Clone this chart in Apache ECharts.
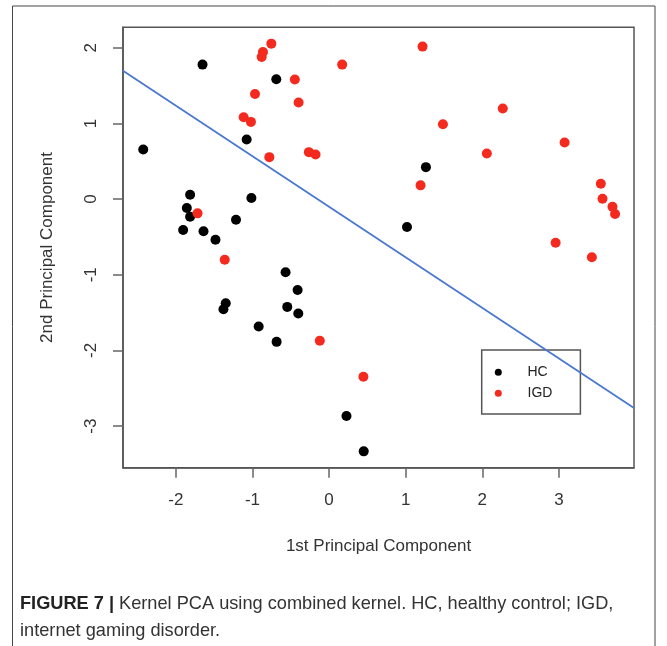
<!DOCTYPE html>
<html>
<head>
<meta charset="utf-8">
<script src="https://cdn.jsdelivr.net/npm/echarts@6/dist/echarts.min.js"></script>
<style>
html,body{margin:0;padding:0;background:#fff;}
#chart{width:667px;height:646px;}
</style>
</head>
<body>
<div id="chart"></div>
<script>
// ---- data ----
const hcX = [-1.652,-0.689,-2.426,-1.076,-1.814,-1.014,-1.857,-1.814,-1.215,-1.905,-1.639,-1.483,1.264,1.017,-0.568,-0.411,-1.349,-1.379,-0.546,-0.402,-0.919,-0.685,0.227,0.452];
const hcY = [1.777,1.583,0.656,0.788,0.057,0.013,-0.119,-0.234,-0.273,-0.409,-0.426,-0.537,0.422,-0.369,-0.967,-1.201,-1.376,-1.455,-1.425,-1.513,-1.685,-1.887,-2.867,-3.334];
const igdX = [-0.754,-0.863,-0.880,0.171,-0.447,-0.967,-0.398,-1.115,-1.020,-0.780,-0.264,-0.177,-1.717,1.220,2.267,1.486,3.074,2.059,1.194,3.547,3.569,3.699,3.733,2.957,3.430,-1.362,-0.121,0.448];
const igdY = [2.054,1.943,1.877,1.777,1.579,1.389,1.276,1.082,1.020,0.554,0.620,0.590,-0.189,2.015,1.197,0.989,0.748,0.603,0.181,0.202,0.004,-0.102,-0.198,-0.577,-0.769,-0.801,-1.873,-2.348];
const lineX = [-2.69, 3.98];
const lineY = [1.696, -2.762];
const xTicks = [-2,-1,0,1,2,3];
const yTicks = [-3,-2,-1,0,1,2];
const seriesNames = ['HC','IGD'];
const xTitle = '1st Principal Component';
const yTitle = '2nd Principal Component';
const captionBold = 'FIGURE 7 |';
const captionRest = ' Kernel PCA using combined kernel. HC, healthy control; IGD,';
const captionLine2 = 'internet gaming disorder.';

const zip = (a,b) => a.map((v,i)=>[v,b[i]]);
const FONT = '"Liberation Sans", Arial, sans-serif';

const chart = echarts.init(document.getElementById('chart'), null, {renderer:'canvas'});
chart.setOption({
  backgroundColor:'#ffffff',
  animation:false,
  grid:{left:123,right:33,top:27.3,bottom:178.3,show:true,borderColor:'#555',borderWidth:1.5,containLabel:false,outerBoundsMode:'none'},
  xAxis:{
    type:'value',min:-2.69,max:3.98,
    name:xTitle,nameLocation:'middle',nameGap:70,
    nameTextStyle:{fontFamily:FONT,fontSize:17,color:'#333'},
    axisLine:{show:true,onZero:false,lineStyle:{color:'#555',width:1.5}},
    axisTick:{show:true,inside:false,length:10,lineStyle:{color:'#666',width:1.5},customValues:xTicks},
    axisLabel:{fontFamily:FONT,fontSize:17,color:'#333',margin:24,customValues:xTicks},
    splitLine:{show:false}
  },
  yAxis:{
    type:'value',min:-3.55,max:2.27,
    name:yTitle,nameLocation:'middle',nameGap:67,nameRotate:90,
    nameTextStyle:{fontFamily:FONT,fontSize:17,color:'#333'},
    axisLine:{show:true,onZero:false,lineStyle:{color:'#555',width:1.5}},
    axisTick:{show:true,inside:false,length:10,lineStyle:{color:'#666',width:1.5},customValues:yTicks},
    axisLabel:{fontFamily:FONT,fontSize:17,color:'#333',margin:23,rotate:90,customValues:yTicks},
    splitLine:{show:false}
  },
  legend:{
    show:true,orient:'vertical',left:481.7,top:350,
    data:seriesNames,
    icon:'circle',itemWidth:7,itemHeight:7,itemGap:7,
    padding:[15.3,28,13.7,13.1],
    borderColor:'#555',borderWidth:1.5,borderRadius:0,backgroundColor:'#fff',
    textStyle:{fontFamily:FONT,fontSize:14,color:'#222',lineHeight:14,padding:[0,0,0,20.7]},
    selectedMode:false
  },
  series:[
    {name:'HC',type:'scatter',data:zip(hcX,hcY),symbol:'circle',symbolSize:10,itemStyle:{color:'#000000',opacity:1},z:3},
    {name:'IGD',type:'scatter',data:zip(igdX,igdY),symbol:'circle',symbolSize:10,itemStyle:{color:'#f42a1f',opacity:1},z:3},
    {name:'boundary',type:'line',data:zip(lineX,lineY),showSymbol:false,symbol:'none',lineStyle:{color:'#4a78d0',width:1.8},z:4,silent:true}
  ],
  graphic:[
    {type:'rect',z:-10,silent:true,shape:{x:12.5,y:6,width:642.5,height:660},style:{fill:'none',stroke:'#444',lineWidth:1}},
    {type:'text',left:20,top:590,silent:true,style:{
      text:'{b|'+captionBold+'}'+captionRest+'\n'+captionLine2,
      font:'18.2px '+FONT,fill:'#333',lineHeight:27,
      rich:{b:{fontWeight:'bold',fontSize:18.2,fontFamily:FONT,fill:'#222',lineHeight:27}}
    }}
  ]
});
</script>
</body>
</html>
